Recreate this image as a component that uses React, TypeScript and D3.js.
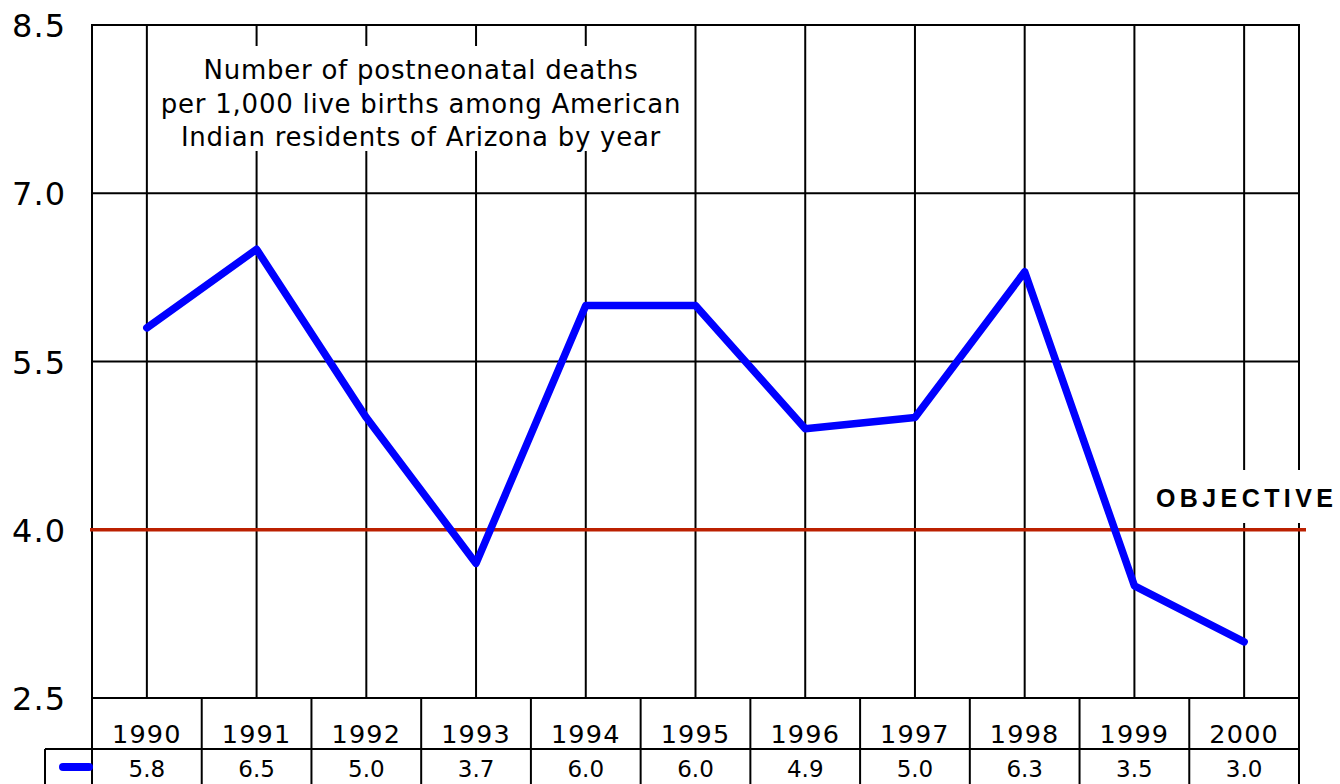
import React from "react";
import * as d3 from "d3";

const years = ["1990", "1991", "1992", "1993", "1994", "1995", "1996", "1997", "1998", "1999", "2000"];
const rates = [5.8, 6.5, 5.0, 3.7, 6.0, 6.0, 4.9, 5.0, 6.3, 3.5, 3.0];
const yTicks = [2.5, 4.0, 5.5, 7.0, 8.5];
const objective = 4.0;
const titleLines = [
  "Number of postneonatal deaths",
  "per 1,000 live births among American",
  "Indian residents of Arizona by year",
];
const objectiveLabel = "OBJECTIVE";

const W = 1340;
const H = 784;
const FONT = "DejaVu Sans, Verdana, sans-serif";

export default function App() {
  const x = d3.scaleBand<string>().domain(years).range([92, 1299]).padding(0);
  const y = d3.scaleLinear().domain([2.5, 8.5]).range([698, 25]);
  const cx = (d: string) => (x(d) as number) + x.bandwidth() / 2;
  const line = d3
    .line<number>()
    .x((_, i) => cx(years[i]))
    .y((d) => y(d));

  const top = y(8.5);
  const bottom = y(2.5);
  const row1Bottom = 749;
  const row2Bottom = 790;
  const left = 92;
  const right = 1299;

  return (
    <svg width={W} height={H} style={{ position: "absolute", left: 0, top: 0, background: "#fff" }}>
      <rect x={0} y={0} width={W} height={H} fill="#fff" />
      {/* horizontal grid */}
      {yTicks.map((t) => (
        <line key={"h" + t} x1={left} x2={right} y1={y(t)} y2={y(t)} stroke="#000" strokeWidth={2} />
      ))}
      {/* vertical grid at category centres */}
      {years.map((yr) => (
        <line key={"v" + yr} x1={cx(yr)} x2={cx(yr)} y1={top} y2={bottom} stroke="#000" strokeWidth={2} />
      ))}
      {/* frame */}
      <line x1={left} x2={left} y1={top - 1} y2={H} stroke="#000" strokeWidth={2} />
      <line x1={right} x2={right} y1={top - 1} y2={H} stroke="#000" strokeWidth={2} />

      {/* title box */}
      <rect x={152} y={46} width={540} height={105} fill="#fff" />
      {titleLines.map((t, i) => (
        <text
          key={t}
          x={421}
          y={79 + i * 33.5}
          textAnchor="middle"
          fontFamily={FONT}
          fontSize={26}
          letterSpacing={0.75}
          fill="#000"
        >
          {t}
        </text>
      ))}

      {/* objective label */}
      <rect x={1150} y={470} width={190} height={53} fill="#fff" />
      <text
        x={1156}
        y={507}
        fontFamily="Liberation Sans, Arial, sans-serif"
        fontSize={25}
        fontWeight="bold"
        letterSpacing={4.4}
        fill="#000"
      >
        {objectiveLabel}
      </text>

      {/* objective line */}
      <line x1={90} x2={1306} y1={y(objective)} y2={y(objective)} stroke="#BB2000" strokeWidth={3.5} />

      {/* data line */}
      <path
        d={line(rates) as string}
        fill="none"
        stroke="#0000FF"
        strokeWidth={7.5}
        strokeLinecap="round"
        strokeLinejoin="round"
      />

      {/* y tick labels */}
      {yTicks.map((t) => (
        <text
          key={"yl" + t}
          x={66}
          y={y(t) + 12}
          textAnchor="end"
          fontFamily={FONT}
          fontSize={32}
          letterSpacing={1}
          fill="#000"
        >
          {t.toFixed(1)}
        </text>
      ))}

      {/* data table */}
      <line x1={left} x2={right} y1={row1Bottom} y2={row1Bottom} stroke="#000" strokeWidth={2} />
      <line x1={45} x2={left} y1={row1Bottom} y2={row1Bottom} stroke="#000" strokeWidth={2} />
      <line x1={45} x2={45} y1={row1Bottom} y2={row2Bottom} stroke="#000" strokeWidth={2} />
      {years.map((yr, i) =>
        i === 0 ? null : (
          <line
            key={"c" + yr}
            x1={x(yr) as number}
            x2={x(yr) as number}
            y1={bottom}
            y2={row2Bottom}
            stroke="#000"
            strokeWidth={2}
          />
        )
      )}
      <line x1={63} x2={89} y1={767} y2={767} stroke="#0000FF" strokeWidth={8} strokeLinecap="round" />
      {years.map((yr) => (
        <text
          key={"yt" + yr}
          x={cx(yr)}
          y={743}
          textAnchor="middle"
          fontFamily={FONT}
          fontSize={25.5}
          letterSpacing={1.2}
          fill="#000"
        >
          {yr}
        </text>
      ))}
      {rates.map((r, i) => (
        <text
          key={"vt" + i}
          x={cx(years[i])}
          y={777}
          textAnchor="middle"
          fontFamily={FONT}
          fontSize={23}
          letterSpacing={0}
          fill="#000"
        >
          {r.toFixed(1)}
        </text>
      ))}
    </svg>
  );
}
